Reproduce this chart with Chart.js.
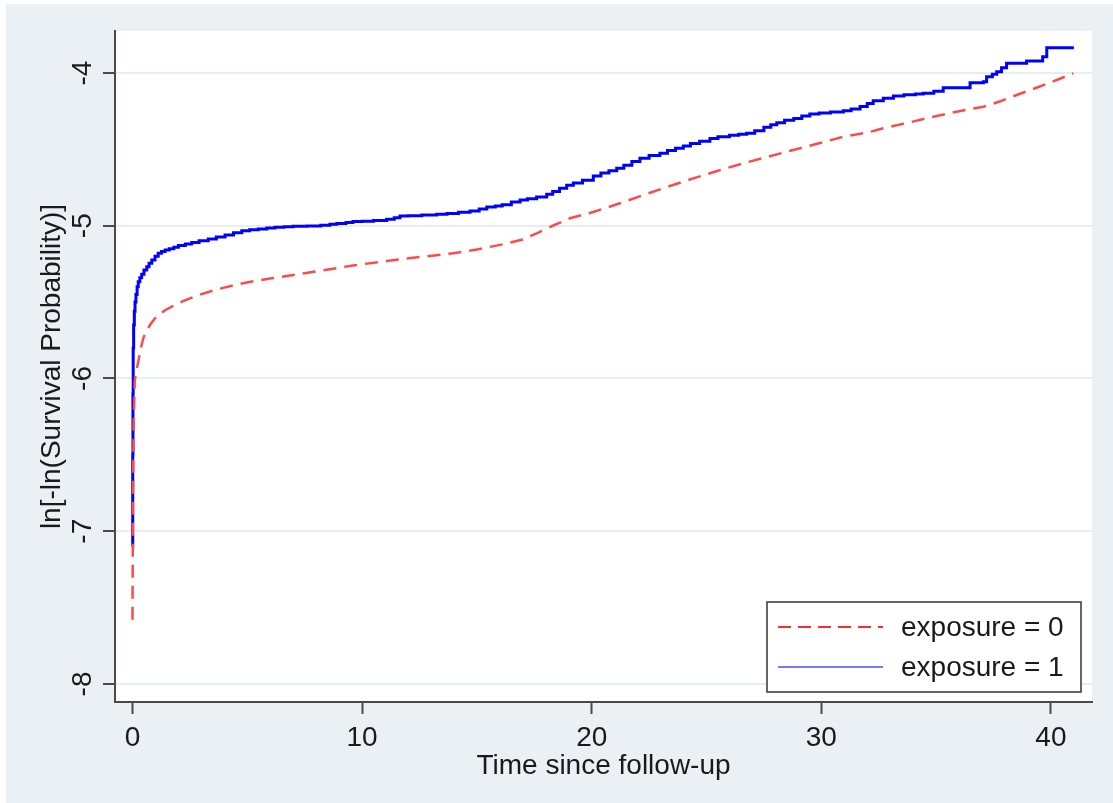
<!DOCTYPE html>
<html>
<head>
<meta charset="utf-8">
<script src="https://cdn.jsdelivr.net/npm/chart.js@4/dist/chart.umd.min.js"></script>
<style>
  html, body { margin: 0; padding: 0; background: #ffffff; }
  #wrap { width: 1113px; height: 803px; }
</style>
</head>
<body>
<div id="wrap"><canvas id="c" width="1113" height="803"></canvas></div>
<script>
// ln[-ln S(t)] curves by exposure group
const seriesLabels = ['exposure = 0', 'exposure = 1'];

const timeUnexposed = [0, 0.02, 0.05, 0.1, 0.17, 0.25, 0.35, 0.47, 0.6, 0.76, 0.93, 1.12, 1.45, 1.85, 2.2,
  2.58, 3.0, 3.45, 3.95, 4.46, 5.2, 6.06, 7.3, 8.17, 9.6, 11.07, 12.5, 13.97, 15.0, 16.15,
  17.0, 17.6, 18.3, 19.05, 20.07, 21.23, 22.25, 23.3, 24.42, 25.5, 26.6, 27.7, 28.78, 29.9, 30.96,
  32.0, 32.7, 33.88, 34.88, 36.0, 37.06, 37.8, 38.51, 39.4, 40.25, 40.98];
const lnlnUnexposed = [-7.58, -6.8, -6.3, -6.01, -5.95, -5.89, -5.81, -5.737, -5.69, -5.65, -5.615, -5.585, -5.55, -5.52, -5.494,
  -5.471, -5.448, -5.427, -5.407, -5.388, -5.365, -5.344, -5.315, -5.295, -5.26, -5.231, -5.205, -5.18, -5.155, -5.121,
  -5.09, -5.05, -5.0, -4.951, -4.91, -4.853, -4.799, -4.745, -4.69, -4.64, -4.591, -4.547, -4.504, -4.46, -4.417,
  -4.39, -4.362, -4.322, -4.286, -4.25, -4.221, -4.185, -4.144, -4.095, -4.046, -4.002];

const timeExposed = [0, 0.01, 0.02, 0.03, 0.05, 0.08, 0.11, 0.15, 0.2, 0.25, 0.32, 0.4, 0.5, 0.62, 0.72,
  0.84, 0.98, 1.12, 1.26, 1.42, 1.6, 1.8, 2.0, 2.3, 2.58, 2.9, 3.3, 3.65, 4.03, 4.4,
  4.76, 5.1, 5.48, 5.85, 6.2, 6.6, 7.0, 7.6, 8.2, 8.6, 8.9, 9.3, 9.6, 10.0, 10.5,
  11.07, 11.4, 11.65, 12.0, 12.6, 13.25, 13.7, 14.2, 14.7, 15.1, 15.43, 15.8, 16.1, 16.5, 16.88,
  17.2, 17.6, 18.04, 18.3, 18.6, 18.91, 19.2, 19.6, 20.07, 20.4, 20.75, 21.09, 21.4, 21.75, 22.1,
  22.5, 22.97, 23.3, 23.65, 23.99, 24.3, 24.7, 25.15, 25.5, 26.0, 26.4, 26.75, 27.1, 27.5, 27.8,
  28.06, 28.4, 28.8, 29.15, 29.5, 29.9, 30.4, 30.96, 31.3, 31.69, 32.0, 32.26, 32.7, 33.14, 33.6,
  34.1, 34.44, 34.9, 35.31, 36.48, 37.06, 37.2, 37.45, 37.64, 37.85, 38.07, 38.94, 39.64, 39.82, 41.0];
const lnlnExposed = [-7.10, -6.5, -6.1, -5.8, -5.65, -5.56, -5.50, -5.45, -5.40, -5.366, -5.34, -5.318, -5.29, -5.268, -5.245,
  -5.224, -5.20, -5.18, -5.168, -5.159, -5.15, -5.14, -5.13, -5.12, -5.109, -5.098, -5.087, -5.074, -5.06, -5.046,
  -5.032, -5.026, -5.021, -5.015, -5.01, -5.006, -5.004, -5.002, -4.997, -4.99, -4.985, -4.978, -4.973, -4.97, -4.966,
  -4.958, -4.948, -4.936, -4.934, -4.93, -4.925, -4.92, -4.912, -4.903, -4.89, -4.878, -4.87, -4.862, -4.845, -4.831,
  -4.823, -4.812, -4.794, -4.775, -4.755, -4.735, -4.72, -4.702, -4.675, -4.655, -4.64, -4.624, -4.604, -4.58, -4.558,
  -4.54, -4.526, -4.508, -4.492, -4.478, -4.462, -4.446, -4.428, -4.418, -4.408, -4.401, -4.395, -4.378, -4.355, -4.338,
  -4.325, -4.31, -4.298, -4.282, -4.268, -4.262, -4.255, -4.247, -4.235, -4.22, -4.2, -4.181, -4.166, -4.151, -4.143,
  -4.137, -4.133, -4.12, -4.096, -4.063, -4.057, -4.024, -4.008, -3.991, -3.965, -3.936, -3.921, -3.893, -3.834, -3.834];

const xTickValues = [0, 10, 20, 30, 40];
const yTickValues = [-8, -7, -6, -5, -4];
const xTitle = 'Time since follow-up';
const yTitle = 'ln[-ln(Survival Probability)]';

const toPoints = (xs, ys) => xs.map((x, i) => ({ x: x, y: ys[i] }));

const FONT = 'Liberation Sans, Arial, Helvetica, sans-serif';
const FSIZE = 28;
const TEXT = '#1a1a1a';
const AXIS = '#4a4a4a';
const BG = '#eaf0f3';
const GRID = '#e6eef0';
const RED = '#ff4a4a';
const BLUE = '#0000ff';

// Page and plot-region backgrounds
const backdrop = {
  id: 'backdrop',
  beforeDraw(chart) {
    const { ctx, chartArea: a } = chart;
    ctx.save();
    ctx.fillStyle = '#ffffff';
    ctx.fillRect(0, 0, chart.width, chart.height);
    ctx.fillStyle = BG;
    ctx.fillRect(6, 4, chart.width - 6, chart.height - 4);
    ctx.fillStyle = '#ffffff';
    ctx.fillRect(a.left, a.top, a.right - a.left, a.bottom - a.top);
    ctx.restore();
  }
};

// Boxed legend in the lower-right corner of the plot region
const boxLegend = {
  id: 'boxLegend',
  afterDatasetsDraw(chart) {
    const { ctx, chartArea: a } = chart;
    const w = 314, h = 90;
    const x0 = a.right - 11 - w, y0 = a.bottom - 10 - h;
    ctx.save();
    ctx.fillStyle = '#ffffff';
    ctx.fillRect(x0, y0, w, h);
    ctx.strokeStyle = '#333333';
    ctx.lineWidth = 1.5;
    ctx.strokeRect(x0, y0, w, h);
    const rows = [
      { y: y0 + 25, color: '#ff2a2a', dash: [13, 7], width: 2 },
      { y: y0 + 65, color: '#4a4aff', dash: [], width: 1.5 }
    ];
    rows.forEach((r, i) => {
      ctx.beginPath();
      ctx.setLineDash(r.dash);
      ctx.strokeStyle = r.color;
      ctx.lineWidth = r.width;
      ctx.moveTo(x0 + 11, r.y);
      ctx.lineTo(x0 + 116, r.y);
      ctx.stroke();
      ctx.setLineDash([]);
      ctx.fillStyle = TEXT;
      ctx.font = FSIZE + 'px ' + FONT;
      ctx.textBaseline = 'middle';
      ctx.textAlign = 'left';
      ctx.fillText(chart.data.datasets[i].label, x0 + 134, r.y + 1);
    });
    ctx.restore();
  }
};

new Chart(document.getElementById('c'), {
  type: 'line',
  data: {
    datasets: [
      {
        label: seriesLabels[0],
        data: toPoints(timeUnexposed, lnlnUnexposed),
        borderColor: RED,
        borderWidth: 2.5,
        borderDash: [13, 8],
        pointRadius: 0,
        fill: false,
        tension: 0
      },
      {
        label: seriesLabels[1],
        data: toPoints(timeExposed, lnlnExposed),
        borderColor: BLUE,
        borderWidth: 3,
        stepped: 'before',
        pointRadius: 0,
        fill: false
      }
    ]
  },
  options: {
    responsive: false,
    maintainAspectRatio: false,
    devicePixelRatio: 1,
    animation: false,
    layout: { padding: { left: 6, top: 31, right: 21, bottom: 0 } },
    plugins: {
      legend: { display: false },
      tooltip: { enabled: false }
    },
    scales: {
      x: {
        type: 'linear',
        min: -0.762,
        max: 41.79,
        afterBuildTicks: s => { s.ticks = xTickValues.map(v => ({ value: v })); },
        afterFit: s => { s.height = 101; },
        border: { display: true, color: AXIS, width: 2 },
        grid: { drawOnChartArea: false, drawTicks: true, tickLength: 12, tickColor: AXIS, tickWidth: 2 },
        ticks: {
          color: TEXT,
          padding: 7,
          maxRotation: 0,
          minRotation: 0,
          font: { family: FONT, size: FSIZE },
          callback: v => String(v)
        },
        title: {
          display: true,
          text: xTitle,
          color: TEXT,
          font: { family: FONT, size: FSIZE },
          padding: { top: 0, bottom: 20 }
        }
      },
      y: {
        type: 'linear',
        min: -8.118,
        max: -3.725,
        afterBuildTicks: s => { s.ticks = yTickValues.map(v => ({ value: v })); },
        afterFit: s => { s.width = 109; },
        border: { display: true, color: AXIS, width: 2 },
        grid: { color: GRID, lineWidth: 2, drawTicks: true, tickLength: 12, tickColor: AXIS, tickWidth: 2 },
        ticks: {
          color: TEXT,
          padding: 7,
          minRotation: 90,
          maxRotation: 90,
          crossAlign: 'center',
          font: { family: FONT, size: FSIZE },
          callback: v => String(v)
        },
        title: {
          display: true,
          text: yTitle,
          color: TEXT,
          font: { family: FONT, size: FSIZE },
          padding: { top: 29, bottom: 0 }
        }
      }
    }
  },
  plugins: [backdrop, boxLegend]
});
</script>
</body>
</html>
